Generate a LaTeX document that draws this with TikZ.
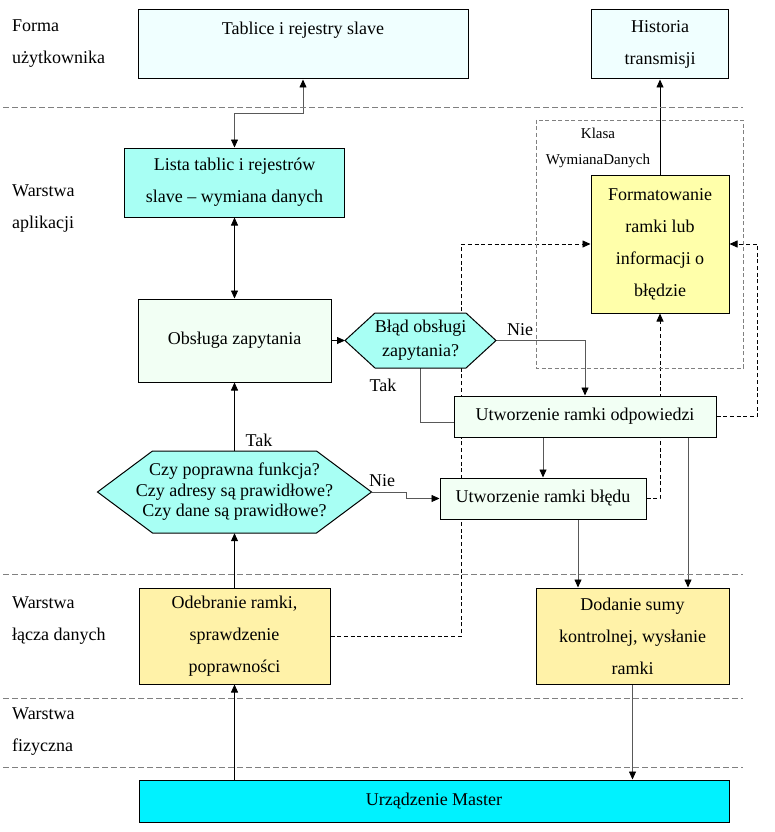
\documentclass[tikz,border=0pt]{standalone}
\usepackage{fontspec}
\setmainfont{Liberation Serif}
\usetikzlibrary{arrows.meta,backgrounds}
\definecolor{azurebox}{HTML}{F0FFFF}
\definecolor{aquabox}{HTML}{A8FFF4}
\definecolor{mintbox}{HTML}{F2FFF4}
\definecolor{lemonbox}{HTML}{FFFFAA}
\definecolor{creambox}{HTML}{FFF2A8}
\definecolor{masterbox}{HTML}{00F2FF}
\def\hexagon#1#2#3#4{-- ++(#2,-#4) -- ++(#3,0) -- ++(#2,#4) coordinate (#1E) -- ++(-#2,#4) -- ++(-#3,0) -- cycle}
\tikzset{
  box/.style={draw,line width=1pt,align=center,inner sep=0pt,font=\fontsize{18}{32}\selectfont},
  hexa/.style={draw,line width=1pt,fill=aquabox},
  hextext/.style={align=center,inner sep=0pt},
  layertext/.style={anchor=west,align=left,inner sep=0pt,font=\fontsize{18}{32}\selectfont},
  lbl/.style={inner sep=0pt,font=\fontsize{18}{20}\selectfont},
  sepline/.style={gray,line width=0.8pt,dash pattern=on 6pt off 3pt},
  klasarect/.style={gray,line width=0.8pt,dash pattern=on 4pt off 2.5pt},
  conn/.style={line width=0.8pt},
  gconn/.style={conn,draw=gray!70!black},
  dconn/.style={conn,dash pattern=on 4pt off 2.7pt},
}
\begin{document}
\begin{tikzpicture}[x=1pt,y=-1pt,>={Triangle[length=8pt,width=7pt,color=black]}]
\useasboundingbox (0,0) rectangle (774,832);
\foreach \y in {107,574,698,767}
  \draw[sepline] (3,\y) -- (743,\y);

\node[layertext] (forma) at (12,44) {Forma\\użytkownika};
\node[layertext] (aplikacja) at (12,208.5) {Warstwa\\aplikacji};
\node[layertext] (lacze) at (12,621) {Warstwa\\łącza danych};
\node[layertext] (fizyczna) at (12,731.5) {Warstwa\\fizyczna};

\draw[klasarect] (536,120) rectangle (743,368);
\node[hextext,font=\fontsize{15}{26}\selectfont] (klasa) at (598,148) {Klasa\\WymianaDanych};

\node[box,fill=azurebox,minimum width=330,minimum height=69] (tablice) at (303,44.5) {Tablice i rejestry slave\\\mbox{}};
\node[box,fill=azurebox,minimum width=137,minimum height=69] (historia) at (660,44.5) {Historia\\transmisji};
\node[box,fill=aquabox,minimum width=220,minimum height=69] (lista) at (234.5,182.5) {Lista tablic i rejestrów\\slave – wymiana danych};
\node[box,fill=mintbox,minimum width=193,minimum height=83] (obsluga) at (234.5,340.5) {Obsługa zapytania};
\node[box,fill=lemonbox,minimum width=138,minimum height=138] (format) at (660,244) {Formatowanie\\ramki lub\\informacji o\\błędzie};

\draw[hexa] (345,340.5) coordinate (bladW) \hexagon{blad}{30}{91}{27.5};
\node[hextext,minimum height=55,font=\fontsize{18}{24}\selectfont] (blad) at (420.5,340.5) {Błąd obsługi\\zapytania?};
\draw[hexa] (97.5,492) coordinate (czyW) \hexagon{czy}{55}{164}{41};
\node[hextext,minimum height=82,font=\fontsize{18}{20.5}\selectfont] (czy) at (234.5,492) {Czy poprawna funkcja?\\Czy adresy są prawidłowe?\\Czy dane są prawidłowe?};

\node[box,fill=mintbox,minimum width=262,minimum height=41] (odp) at (585,416.5) {Utworzenie ramki odpowiedzi};
\node[box,fill=mintbox,minimum width=206,minimum height=41] (bledu) at (543,498.5) {Utworzenie ramki błędu};
\node[box,fill=creambox,minimum width=191,minimum height=96] (odebranie) at (234.5,636) {Odebranie ramki,\\sprawdzenie\\poprawności};
\node[box,fill=creambox,minimum width=193,minimum height=96] (dodanie) at (632.5,636) {Dodanie sumy\\kontrolnej, wysłanie\\ramki};
\node[box,fill=masterbox,minimum width=590,minimum height=42] (master) at (434,801) {Urządzenie Master};

\node[lbl] (takblad) at (383,385) {Tak};
\node[lbl] (nieblad) at (520,330) {Nie};
\node[lbl] (takczy) at (259,440) {Tak};
\node[lbl] (nieczy) at (382,481) {Nie};

\begin{scope}[on background layer]
\draw[gconn,<->] (tablice.south) -- ++(0,34) -| (lista.north);
\draw[conn,<->] (lista) -- (obsluga);
\draw[conn,->] (czy.north) -- (obsluga.south);
\draw[conn,->] (odebranie.north) -- (czy.south);
\draw[conn,->] (odebranie.south |- master.north) -- (odebranie.south);
\draw[gconn,->] (dodanie.south) -- (dodanie.south |- master.north);
\draw[conn,->] (obsluga.east) -- (bladW);
\draw[gconn,->] (bladE) -| (odp.north);
\draw[gconn] (blad.south) |- ([yshift=-6]odp.west);
\draw[gconn,->] (odp.south -| bledu) -- (bledu.north);
\draw[gconn,->] (czyE) -- ++(35,0) |- (bledu.west);
\draw[gconn,->] ([xshift=35]bledu.south) -- ([xshift=35]bledu.south |- dodanie.north);
\draw[gconn,->] ([xshift=103]odp.south) -- ([xshift=103]odp.south |- dodanie.north);
\draw[conn,->] (format.north) -- (historia.south);
\draw[dconn,->] (odebranie.east) -- ++(131,0) |- (format.west);
\draw[dconn,->] (odp.east) -- ++(41,0) |- (format.east);
\draw[dconn,->] (bledu.east) -| (format.south);
\end{scope}
\end{tikzpicture}
\end{document}
